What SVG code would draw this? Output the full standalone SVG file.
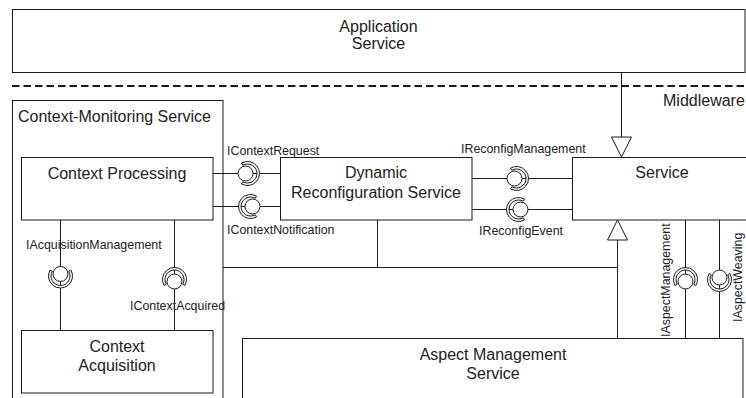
<svg xmlns="http://www.w3.org/2000/svg" xmlns:xlink="http://www.w3.org/1999/xlink" width="746" height="398" viewBox="0 0 746 398">
  <style>
    .box { fill: #ffffff; stroke: #1a1a1a; stroke-width: 1; }
    .frame { fill: none; stroke: #1a1a1a; stroke-width: 1; }
    .wire { fill: none; stroke: #1a1a1a; stroke-width: 1; }
    .sep { fill: none; stroke: #1a1a1a; stroke-width: 2; stroke-dasharray: 7.5 4; }
    .head { fill: #ffffff; stroke: #1a1a1a; stroke-width: 1; }
    .sym { fill: #ffffff; stroke: #1a1a1a; stroke-width: 1; }
    text { font-family: "Liberation Sans", Arial, sans-serif; fill: #222222; }
    .big { font-size: 16px; }
    .lbl { font-size: 12.4px; }
    .mid { text-anchor: middle; }
  </style>
  <defs>
    <!-- provided-interface ball with required-interface socket; socket back faces +x -->
    <g id="ballSocket">
      <path class="sym" transform="translate(2,0)" d="M-6,-10.39 A12,12 0 1 1 -6,10.39 L-4.75,8.23 A9.5,9.5 0 1 0 -4.75,-8.23 Z"/>
      <circle class="sym" cx="0" cy="0" r="7.5"/>
    </g>
  </defs>

  <rect width="746" height="398" fill="#ffffff"/>

  <!-- application layer -->
  <g id="application-service">
    <rect class="box" x="12.5" y="9.5" width="732.5" height="63"/>
    <text class="big mid" x="378.5" y="32">Application</text>
    <text class="big mid" x="378.5" y="48.5">Service</text>
  </g>

  <!-- layer boundary -->
  <g id="middleware-boundary">
    <line class="sep" x1="12" y1="86" x2="746" y2="86"/>
    <text class="big" x="663" y="106">Middleware</text>
  </g>

  <g id="context-monitoring-service">
    <rect class="frame" x="12.5" y="100.5" width="210.5" height="310"/>
    <text class="big" x="18" y="122">Context-Monitoring Service</text>
  </g>

  <g id="connectors">
    <!-- application to service (realisation) -->
    <line class="wire" x1="621.5" y1="72.5" x2="621.5" y2="137"/>
    <polygon class="head" points="621.5,157 611.5,137 631.5,137"/>
    <!-- aspect management to service -->
    <line class="wire" x1="617.5" y1="338.5" x2="617.5" y2="240"/>
    <polygon class="head" points="617.5,220 607.5,240 627.5,240"/>
    <!-- shared bus -->
    <polyline class="wire" points="223,267.5 617.5,267.5"/>
    <line class="wire" x1="377.5" y1="220" x2="377.5" y2="267.5"/>
    <!-- interface wires -->
    <line class="wire" x1="213" y1="173.5" x2="280" y2="173.5"/>
    <line class="wire" x1="213" y1="206.5" x2="280" y2="206.5"/>
    <line class="wire" x1="472" y1="178.5" x2="572" y2="178.5"/>
    <line class="wire" x1="472" y1="209.5" x2="572" y2="209.5"/>
    <line class="wire" x1="60.5" y1="220" x2="60.5" y2="330"/>
    <line class="wire" x1="174.5" y1="220" x2="174.5" y2="330"/>
    <line class="wire" x1="685.5" y1="220" x2="685.5" y2="338.5"/>
    <line class="wire" x1="719.5" y1="220" x2="719.5" y2="338.5"/>

    <g id="interfaces">
      <use xlink:href="#ballSocket" href="#ballSocket" transform="translate(245.5,173.5)"/>
      <use xlink:href="#ballSocket" href="#ballSocket" transform="translate(252.5,206.5) rotate(180)"/>
      <use xlink:href="#ballSocket" href="#ballSocket" transform="translate(514.5,178.5)"/>
      <use xlink:href="#ballSocket" href="#ballSocket" transform="translate(520.5,209.5) rotate(180)"/>
      <use xlink:href="#ballSocket" href="#ballSocket" transform="translate(60.5,274) rotate(90)"/>
      <use xlink:href="#ballSocket" href="#ballSocket" transform="translate(174.5,281.5) rotate(-90)"/>
      <use xlink:href="#ballSocket" href="#ballSocket" transform="translate(685.5,281.5) rotate(-90)"/>
      <use xlink:href="#ballSocket" href="#ballSocket" transform="translate(719.5,277.5) rotate(90)"/>
    </g>

    <!-- interface names -->
    <text class="lbl" x="227" y="155">IContextRequest</text>
    <text class="lbl" x="227" y="234">IContextNotification</text>
    <text class="lbl" x="461" y="153">IReconfigManagement</text>
    <text class="lbl" x="479" y="235">IReconfigEvent</text>
    <text class="lbl" x="26" y="249">IAcquisitionManagement</text>
    <text class="lbl" x="130" y="310">IContextAcquired</text>
    <text class="lbl" transform="translate(670,337) rotate(-90)">IAspectManagement</text>
    <text class="lbl" transform="translate(742,322) rotate(-90)">IAspectWeaving</text>
  </g>

  <g id="context-processing">
    <rect class="box" x="21.5" y="157.5" width="191.5" height="62.5"/>
    <text class="big mid" x="117" y="179">Context Processing</text>
  </g>

  <g id="dynamic-reconfiguration-service">
    <rect class="box" x="280.5" y="157.5" width="191.5" height="62.5"/>
    <text class="big mid" x="376" y="178">Dynamic</text>
    <text class="big mid" x="376" y="198">Reconfiguration Service</text>
  </g>

  <g id="service">
    <rect class="box" x="572.5" y="157.5" width="190" height="62.5"/>
    <text class="big mid" x="662" y="177.5">Service</text>
  </g>

  <g id="context-acquisition">
    <rect class="box" x="21.5" y="330.5" width="191.5" height="62.5"/>
    <text class="big mid" x="117" y="351.5">Context</text>
    <text class="big mid" x="117" y="371">Acquisition</text>
  </g>

  <g id="aspect-management-service">
    <rect class="box" x="242.5" y="338.5" width="500.5" height="80"/>
    <text class="big mid" x="493" y="360">Aspect Management</text>
    <text class="big mid" x="493" y="379">Service</text>
  </g>
</svg>
